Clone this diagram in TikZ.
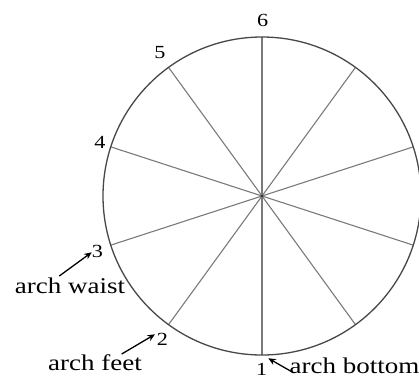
\documentclass[tikz,border=0pt]{standalone}
\usepackage{fontspec}
\setmainfont{Liberation Serif}
\usetikzlibrary{arrows.meta}
\begin{document}
\begin{tikzpicture}[x=1pt,y=-1pt,
  rim/.style={draw=black!72, line width=1.3pt},
  spoke/.style={draw=black!52, line width=1.1pt},
  num/.style={inner sep=0pt, font=\fontsize{18.5}{18.5}\selectfont},
  lab/.style={inner sep=0pt, font=\fontsize{22.5}{22.5}\selectfont},
  ptr/.style={-{Stealth[length=7.5pt,width=6.5pt]}, line width=1.3pt, black}]
\useasboundingbox (0,0) rectangle (419,383);
\coordinate (c) at (262,196);
\foreach \a [count=\n] in {270,234,198,162,126,90,54,18,342,306}
  \path (c) ++(\a:159pt) coordinate (s\n);
\foreach \n in {1,...,10}
  \draw[spoke] (c) -- (s\n);
\draw[rim] (c) circle [radius=159pt];
\fill[black!80] (c) circle [radius=1.4pt];
% rim numbers
\node[num] (n6) at (262.7,20.7) {\scalebox{1.2}[1]{6}};
\node[num] (n5) at (160,53) {\scalebox{1.2}[1]{5}};
\node[num] (n4) at (100,142.7) {\scalebox{1.2}[1]{4}};
\node[num] (n3) at (97.3,251.7) {\scalebox{1.2}[1]{3}};
\node[num] (n2) at (162.3,339.3) {\scalebox{1.2}[1]{2}};
\node[num] (n1) at (261.7,369.3) {\scalebox{1.2}[1]{1}};
% labels
\node[lab] (waist) at (70,286) {\scalebox{1.2}[1]{arch waist}};
\node[lab] (feet) at (95,363) {\scalebox{1.2}[1]{arch feet}};
\node[lab] (bottom) at (354.5,365.5) {\scalebox{1.2}[1]{arch bottom}};
% arrows
\coordinate (wt) at (59.3,276);
\coordinate (wh) at (91.7,252.3);
\coordinate (ft) at (121.7,354);
\coordinate (fh) at (155,334.3);
\coordinate (bt) at (291.7,371.7);
\coordinate (bh) at (268.3,358.3);
\draw[ptr] (wt) -- (wh);
\draw[ptr] (ft) -- (fh);
\draw[ptr] (bt) -- (bh);
\end{tikzpicture}
\end{document}
